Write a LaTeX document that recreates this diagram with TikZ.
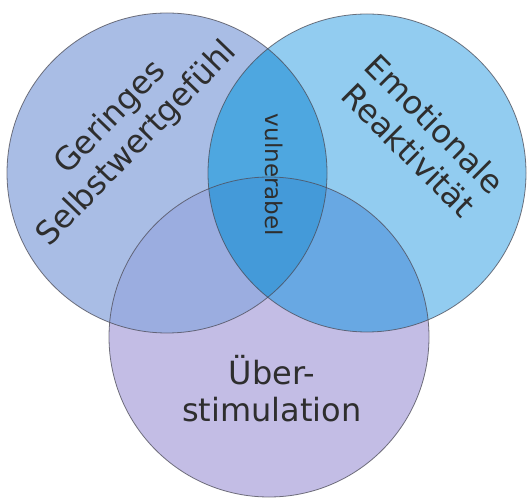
\documentclass[tikz,border=0pt]{standalone}
\usepackage{fontspec}
\setmainfont{DejaVu Sans}
\definecolor{Lc}{HTML}{A9BDE5}
\definecolor{Rc}{HTML}{92CCF0}
\definecolor{Bc}{HTML}{C3BDE5}
\definecolor{LRc}{HTML}{4EA7E0}
\definecolor{LBc}{HTML}{9BADE0}
\definecolor{RBc}{HTML}{68A8E3}
\definecolor{LRBc}{HTML}{449AD9}
\definecolor{txt}{HTML}{2E2E2E}
\definecolor{rim}{HTML}{4A4A55}
\tikzset{
  biglabel/.style={text=txt, align=center, inner sep=0pt, font=\fontsize{32}{37}\selectfont},
  smalllabel/.style={text=txt, inner sep=0pt, font=\fontsize{23}{27}\selectfont},
  rimline/.style={draw=rim, line width=0.8pt, draw opacity=0.75}
}
\begin{document}
\begin{tikzpicture}[x=1pt,y=1pt]
\useasboundingbox (0,0) rectangle (529,498);
\fill[white] (0,0) rectangle (529,498);
\coordinate (cL) at (167,325);
\coordinate (cR) at (367,325);
\coordinate (cB) at (269,161);
\def\rL{160}\def\rR{159}\def\rB{160}
% single regions
\fill[Lc] (cL) circle[radius=\rL];
\fill[Rc] (cR) circle[radius=\rR];
\fill[Bc] (cB) circle[radius=\rB];
% pairwise
\begin{scope}\clip (cL) circle[radius=\rL]; \fill[LRc] (cR) circle[radius=\rR];\end{scope}
\begin{scope}\clip (cL) circle[radius=\rL]; \fill[LBc] (cB) circle[radius=\rB];\end{scope}
\begin{scope}\clip (cR) circle[radius=\rR]; \fill[RBc] (cB) circle[radius=\rB];\end{scope}
% triple
\begin{scope}\clip (cL) circle[radius=\rL]; \clip (cR) circle[radius=\rR]; \fill[LRBc] (cB) circle[radius=\rB];\end{scope}
% outlines
\draw[rimline] (cL) circle[radius=\rL];
\draw[rimline] (cR) circle[radius=\rR];
\draw[rimline] (cB) circle[radius=\rB];
% labels
\node[biglabel, rotate=46] (geringes) at (124,367) {Geringes\\Selbstwertgefühl};
\node[biglabel, rotate=-45] (emotionale) at (422,361) {Emotionale\\Reaktivität};
\node[smalllabel, rotate=-90] (vulnerabel) at (274,323) {vulnerabel};
\node[biglabel] (ueber) at (272,109) {Über-\\stimulation};
\end{tikzpicture}
\end{document}
